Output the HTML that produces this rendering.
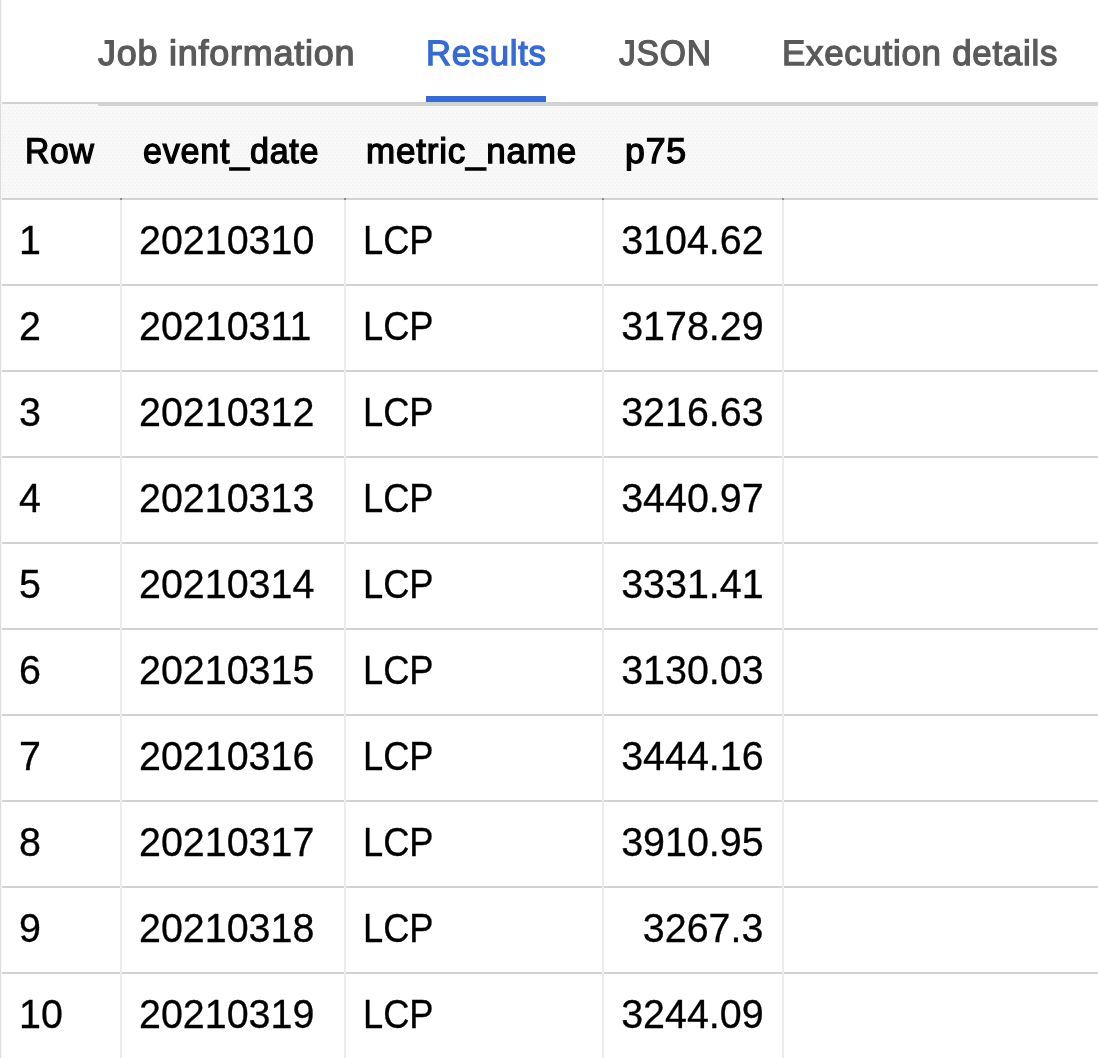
<!DOCTYPE html>
<html lang="en">
<head>
<meta charset="utf-8">
<title>Query results</title>
<style>
html,body{margin:0;padding:0;background:#fff;}
body{width:1098px;height:1058px;overflow:hidden;position:relative;font-family:"Liberation Sans",sans-serif;color:#000;}
.edge{position:absolute;left:0;top:0;width:1px;height:1058px;background:#dcdedd;border-right:1px solid #f5f6f5;}
nav{position:absolute;left:0;top:0;width:1098px;height:106px;z-index:1;}
nav::after{content:"";position:absolute;left:98px;top:104px;width:1000px;height:2px;background:#d1d3d2;}
nav a{position:absolute;top:0;height:102px;display:block;text-decoration:none;color:#5a5a5a;}
nav a.sel{color:#366ad7;border-bottom:6px solid #366ad7;height:96px;}
.t{position:absolute;display:block;white-space:nowrap;line-height:1;transform-origin:0 0;}
nav .t{font-size:35.4px;-webkit-text-stroke:1.3px currentColor;text-rendering:geometricPrecision;letter-spacing:0.75px;}
table,thead,tbody,tr,th,td{display:block;position:absolute;margin:0;padding:0;border:0;font-weight:normal;text-align:left;}
table{left:2px;top:102px;width:1096px;height:956px;}
thead{left:0;top:0;width:1096px;height:98px;}
thead tr{left:0;top:0;width:1096px;height:94px;border-top:2px solid #d1d3d2;border-bottom:2px solid #d1d3d2;}
.hdbg{position:absolute;left:2px;top:104px;width:1096px;height:94px;background:#f8f8f8;}
.hdbg svg{display:block;}
th{top:0;height:94px;}
th .t{font-size:35.6px;-webkit-text-stroke:1.3px currentColor;text-rendering:geometricPrecision;letter-spacing:0.8px;}
th.v::before{content:"";position:absolute;left:0;top:94px;width:2px;height:2px;background:#8c8c8c;}
tbody{left:0;top:98px;width:1096px;height:858px;}
tbody tr{left:0;width:1096px;height:84px;border-bottom:2px solid #d1d3d2;}
td{top:0;height:86px;}
td.v{border-left:2px solid #ececec;}
td .t{font-size:40px;-webkit-text-stroke:0.3px currentColor;}
td .n{transform:scaleX(0.985);}
td .r{transform-origin:100% 0;}
</style>
</head>
<body>
<div class="edge"></div>
<nav role="tablist">
<a role="tab" aria-selected="false" style="left:98px;width:256px"><span class="t" style="left:-0.26px;top:36px;transform:scaleX(1.0157)">Job information</span></a>
<a role="tab" aria-selected="true" class="sel" style="left:426px;width:120px"><span class="t" style="left:0.33px;top:36px;transform:scaleX(0.9791)">Results</span></a>
<a role="tab" aria-selected="false" style="left:619px;width:91px"><span class="t" style="left:0.25px;top:36px;transform:scaleX(0.9515)">JSON</span></a>
<a role="tab" aria-selected="false" style="left:784px;width:274px"><span class="t" style="left:-1.89px;top:36px;transform:scaleX(0.9849)">Execution details</span></a>
</nav>
<div class="hdbg" aria-hidden="true"><svg width="1096" height="94" viewBox="0 0 1096 94"><defs><pattern id="dz" width="4" height="6" patternUnits="userSpaceOnUse"><rect x="0" y="0" width="1" height="1" fill="#eeeeee"/><rect x="2" y="3" width="1" height="1" fill="#eeeeee"/></pattern></defs><rect x="0" y="0" width="1096" height="94" fill="url(#dz)"/></svg></div>
<table>
<thead><tr>
<th style="left:0px;width:118px"><span class="t" style="left:22.71px;top:30px;transform:scaleX(0.9475)">Row</span></th>
<th class="v" style="left:118px;width:224px"><span class="t" style="left:22.73px;top:30px;transform:scaleX(0.9579)">event_date</span></th>
<th class="v" style="left:342px;width:258px"><span class="t" style="left:22.49px;top:30px;transform:scaleX(0.9841)">metric_name</span></th>
<th class="v" style="left:600px;width:180px"><span class="t" style="left:23.03px;top:30px;transform:scaleX(1.0025)">p75</span></th>
<th class="v" style="left:780px;width:316px"></th>
</tr></thead>
<tbody>
<tr style="top:0px">
<td style="left:0;width:118px"><span class="t n" style="left:16.67px;top:20px">1</span></td>
<td class="v" style="left:118px;width:222px"><span class="t n" style="left:16.67px;top:20px">20210310</span></td>
<td class="v" style="left:342px;width:256px"><span class="t" style="left:16.93px;top:20px;transform:scaleX(0.9069)">LCP</span></td>
<td class="v" style="left:600px;width:178px"><span class="t n r" style="right:18.81px;top:20px">3104.62</span></td>
<td class="v" style="left:780px;width:314px"></td>
</tr>
<tr style="top:86px">
<td style="left:0;width:118px"><span class="t n" style="left:16.67px;top:20px">2</span></td>
<td class="v" style="left:118px;width:222px"><span class="t n" style="left:16.67px;top:20px">20210311</span></td>
<td class="v" style="left:342px;width:256px"><span class="t" style="left:16.93px;top:20px;transform:scaleX(0.9069)">LCP</span></td>
<td class="v" style="left:600px;width:178px"><span class="t n r" style="right:18.81px;top:20px">3178.29</span></td>
<td class="v" style="left:780px;width:314px"></td>
</tr>
<tr style="top:172px">
<td style="left:0;width:118px"><span class="t n" style="left:16.67px;top:20px">3</span></td>
<td class="v" style="left:118px;width:222px"><span class="t n" style="left:16.67px;top:20px">20210312</span></td>
<td class="v" style="left:342px;width:256px"><span class="t" style="left:16.93px;top:20px;transform:scaleX(0.9069)">LCP</span></td>
<td class="v" style="left:600px;width:178px"><span class="t n r" style="right:18.81px;top:20px">3216.63</span></td>
<td class="v" style="left:780px;width:314px"></td>
</tr>
<tr style="top:258px">
<td style="left:0;width:118px"><span class="t n" style="left:16.67px;top:20px">4</span></td>
<td class="v" style="left:118px;width:222px"><span class="t n" style="left:16.67px;top:20px">20210313</span></td>
<td class="v" style="left:342px;width:256px"><span class="t" style="left:16.93px;top:20px;transform:scaleX(0.9069)">LCP</span></td>
<td class="v" style="left:600px;width:178px"><span class="t n r" style="right:18.81px;top:20px">3440.97</span></td>
<td class="v" style="left:780px;width:314px"></td>
</tr>
<tr style="top:344px">
<td style="left:0;width:118px"><span class="t n" style="left:16.67px;top:20px">5</span></td>
<td class="v" style="left:118px;width:222px"><span class="t n" style="left:16.67px;top:20px">20210314</span></td>
<td class="v" style="left:342px;width:256px"><span class="t" style="left:16.93px;top:20px;transform:scaleX(0.9069)">LCP</span></td>
<td class="v" style="left:600px;width:178px"><span class="t n r" style="right:18.81px;top:20px">3331.41</span></td>
<td class="v" style="left:780px;width:314px"></td>
</tr>
<tr style="top:430px">
<td style="left:0;width:118px"><span class="t n" style="left:16.67px;top:20px">6</span></td>
<td class="v" style="left:118px;width:222px"><span class="t n" style="left:16.67px;top:20px">20210315</span></td>
<td class="v" style="left:342px;width:256px"><span class="t" style="left:16.93px;top:20px;transform:scaleX(0.9069)">LCP</span></td>
<td class="v" style="left:600px;width:178px"><span class="t n r" style="right:18.81px;top:20px">3130.03</span></td>
<td class="v" style="left:780px;width:314px"></td>
</tr>
<tr style="top:516px">
<td style="left:0;width:118px"><span class="t n" style="left:16.67px;top:20px">7</span></td>
<td class="v" style="left:118px;width:222px"><span class="t n" style="left:16.67px;top:20px">20210316</span></td>
<td class="v" style="left:342px;width:256px"><span class="t" style="left:16.93px;top:20px;transform:scaleX(0.9069)">LCP</span></td>
<td class="v" style="left:600px;width:178px"><span class="t n r" style="right:18.81px;top:20px">3444.16</span></td>
<td class="v" style="left:780px;width:314px"></td>
</tr>
<tr style="top:602px">
<td style="left:0;width:118px"><span class="t n" style="left:16.67px;top:20px">8</span></td>
<td class="v" style="left:118px;width:222px"><span class="t n" style="left:16.67px;top:20px">20210317</span></td>
<td class="v" style="left:342px;width:256px"><span class="t" style="left:16.93px;top:20px;transform:scaleX(0.9069)">LCP</span></td>
<td class="v" style="left:600px;width:178px"><span class="t n r" style="right:18.81px;top:20px">3910.95</span></td>
<td class="v" style="left:780px;width:314px"></td>
</tr>
<tr style="top:688px">
<td style="left:0;width:118px"><span class="t n" style="left:16.67px;top:20px">9</span></td>
<td class="v" style="left:118px;width:222px"><span class="t n" style="left:16.67px;top:20px">20210318</span></td>
<td class="v" style="left:342px;width:256px"><span class="t" style="left:16.93px;top:20px;transform:scaleX(0.9069)">LCP</span></td>
<td class="v" style="left:600px;width:178px"><span class="t n r" style="right:18.81px;top:20px">3267.3</span></td>
<td class="v" style="left:780px;width:314px"></td>
</tr>
<tr style="top:774px">
<td style="left:0;width:118px"><span class="t n" style="left:16.67px;top:20px">10</span></td>
<td class="v" style="left:118px;width:222px"><span class="t n" style="left:16.67px;top:20px">20210319</span></td>
<td class="v" style="left:342px;width:256px"><span class="t" style="left:16.93px;top:20px;transform:scaleX(0.9069)">LCP</span></td>
<td class="v" style="left:600px;width:178px"><span class="t n r" style="right:18.81px;top:20px">3244.09</span></td>
<td class="v" style="left:780px;width:314px"></td>
</tr>
</tbody>
</table>
</body>
</html>
